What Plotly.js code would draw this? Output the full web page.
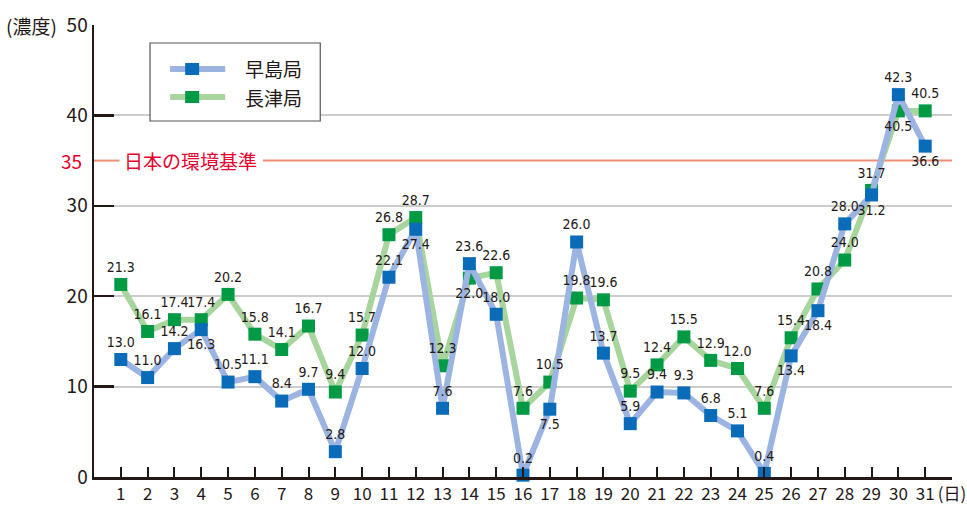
<!DOCTYPE html>
<html><head><meta charset="utf-8">
<script src="https://cdn.plot.ly/plotly-3.0.1.min.js"></script>
<style>html,body{margin:0;padding:0;background:#fff}#chart{width:967px;height:506px}</style>
</head><body><div id="chart"></div>
<script>
const days = [1,2,3,4,5,6,7,8,9,10,11,12,13,14,15,16,17,18,19,20,21,22,23,24,25,26,27,28,29,30,31];
const hayashima = [13.0,11.0,14.2,16.3,10.5,11.1,8.4,9.7,2.8,12.0,22.1,27.4,7.6,23.6,18.0,0.2,7.5,26.0,13.7,5.9,9.4,9.3,6.8,5.1,0.4,13.4,18.4,28.0,31.2,42.3,36.6];
const nagatsu = [21.3,16.1,17.4,17.4,20.2,15.8,14.1,16.7,9.4,15.7,26.8,28.7,12.3,22.0,22.6,7.6,10.5,19.8,19.6,9.5,12.4,15.5,12.9,12.0,7.6,15.4,20.8,24.0,31.7,40.5,40.5];
const seriesNames = ['早島局','長津局'];
const standardValue = 35;
const standardLabel = '日本の環境基準';
const yTicks = [0,10,20,30,40,50];
const xTickVals = days.concat([32]);
const xTickText = days.map(String).concat(['(日)']);

const T='t', B='b';
const hPos = [T,T,T,B,T,T,T,T,T,T,T,B,T,T,T,T,B,T,T,T,T,T,T,T,T,B,B,T,B,T,B];
const nPos = [T,T,T,T,T,T,T,T,T,T,T,T,T,B,T,T,T,T,T,T,T,T,T,T,T,T,T,T,T,B,T];
const toPos = a => a.map(p => p===T ? 'top center' : 'bottom center');

const colors = {
  hLine:'#9CB4E1', hMark:'#0A6CB8',
  nLine:'#A8D49D', nMark:'#009A44',
  std:'#EE8E77', stdText:'#E5002D', ink:'#231815', grid:'#CCCCCC'
};
const labelFont = {family:'"Liberation Sans Narrow","DejaVu Sans Condensed",sans-serif', size:14, color:colors.ink};
const cjk = '"Noto Sans CJK JP","Noto Sans",sans-serif';
const ghost = {symbol:'square', size:13, color:'rgba(0,0,0,0)'};

const traces = [
  {x:days, y:nagatsu, name:seriesNames[1], mode:'lines+markers', showlegend:false,
   line:{color:colors.nLine, width:6}, marker:{symbol:'square', size:13, color:colors.nMark}, cliponaxis:false},
  {x:days, y:hayashima, name:seriesNames[0], mode:'lines+markers', showlegend:false,
   line:{color:colors.hLine, width:6}, marker:{symbol:'square', size:13, color:colors.hMark}, cliponaxis:false},
  {x:days, y:nagatsu, mode:'markers+text', showlegend:false, marker:ghost, text:nagatsu.map(v=>v.toFixed(1)),
   textposition:toPos(nPos), textfont:labelFont, cliponaxis:false},
  {x:days, y:hayashima, mode:'markers+text', showlegend:false, marker:ghost, text:hayashima.map(v=>v.toFixed(1)),
   textposition:toPos(hPos), textfont:labelFont, cliponaxis:false}
];

// custom legend box (paper coordinates)
const lg = {x0:0.0653, x1:0.2637, y0:0.7876, y1:0.9602, rows:[0.9027,0.8407], lx0:0.0887, lx1:0.1529, mx:0.1144, tx:0.1739};
const legendShapes = [
  {type:'rect', xref:'paper', yref:'paper', x0:lg.x0, x1:lg.x1, y0:lg.y0, y1:lg.y1, line:{color:'#555', width:1.2}, fillcolor:'#fff', layer:'above'},
];
const legendAnn = [];
[[colors.hLine, colors.hMark, seriesNames[0]],[colors.nLine, colors.nMark, seriesNames[1]]].forEach((s,i)=>{
  const yy = lg.rows[i];
  legendShapes.push({type:'line', xref:'paper', yref:'paper', x0:lg.lx0, x1:lg.lx1, y0:yy, y1:yy, line:{color:s[0], width:6}, layer:'above'});
  legendShapes.push({type:'rect', xref:'paper', yref:'paper', xsizemode:'pixel', ysizemode:'pixel', xanchor:lg.mx, yanchor:yy,
    x0:-7, x1:7, y0:-6, y1:6, line:{width:0}, fillcolor:s[1], layer:'above'});
  legendAnn.push({xref:'paper', yref:'paper', x:lg.tx, y:yy, xanchor:'left', yanchor:'middle', text:s[2], showarrow:false,
    font:{family:cjk, size:19, color:colors.ink}});
});

const layout = {
  width:967, height:506,
  margin:{l:94, r:15, t:25, b:29},
  paper_bgcolor:'#fff', plot_bgcolor:'#fff',
  showlegend:false,
  xaxis:{range:[0,32], tickvals:xTickVals, ticktext:xTickText, showgrid:false, zeroline:false,
    showline:true, linecolor:colors.ink, linewidth:2.5, ticks:'inside', ticklen:10, tickwidth:2, tickcolor:colors.ink,
    tickfont:{family:cjk, size:17, color:colors.ink}},
  yaxis:{range:[0,50], tickvals:yTicks, showgrid:true, gridcolor:colors.grid, gridwidth:2, zeroline:false,
    showline:true, linecolor:colors.ink, linewidth:2.5, ticks:'inside', ticklen:20, tickwidth:2.5, tickcolor:colors.ink,
    tickfont:{family:cjk, size:19, color:colors.ink}},
  shapes:[
    {type:'line', xref:'x', yref:'y', x0:0, x1:0.95, y0:standardValue, y1:standardValue, line:{color:colors.std, width:2}, layer:'below'},
    {type:'line', xref:'x', yref:'y', x0:6.3, x1:32, y0:standardValue, y1:standardValue, line:{color:colors.std, width:2}, layer:'below'}
  ].concat(legendShapes),
  annotations:[
    {xref:'x', yref:'y', x:3.6, y:standardValue, text:standardLabel, showarrow:false,
     font:{family:cjk, size:19, color:colors.stdText}},
    {xref:'paper', yref:'y', x:-0.012, y:standardValue, xanchor:'right', text:String(standardValue), showarrow:false,
     font:{family:cjk, size:19, color:colors.stdText}},
    {xref:'paper', yref:'paper', x:-0.041, y:1.0, xanchor:'right', yanchor:'middle', text:'(濃度)', showarrow:false,
     font:{family:cjk, size:19, color:colors.ink}}
  ].concat(legendAnn)
};
Plotly.newPlot('chart', traces, layout, {staticPlot:true});
</script></body></html>
